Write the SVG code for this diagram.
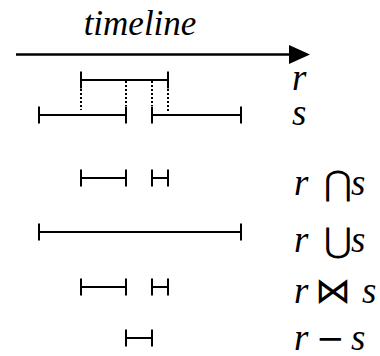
<svg xmlns="http://www.w3.org/2000/svg" width="380" height="356" viewBox="0 0 380 356">
<style>
.iv{stroke:#000;stroke-width:2;fill:none}
.dot{stroke:#000;stroke-width:2;stroke-dasharray:2 2;fill:none}
</style>
<rect width="380" height="356" fill="#fff"/>
<g font-family="Liberation Serif" font-style="italic" font-size="37" fill="#000">
<g id="timeline">
<text x="140" y="35" text-anchor="middle" font-size="35">timeline</text>
<line x1="16" y1="54.5" x2="291" y2="54.5" stroke="#000" stroke-width="2.5"/>
<polygon points="289,45 310,54.5 289,64" fill="#000"/>
</g>
<g id="connectors">
<line class="dot" x1="81" y1="89" x2="81" y2="110"/>
<line class="dot" x1="126" y1="81" x2="126" y2="106"/>
<line class="dot" x1="152" y1="81" x2="152" y2="106"/>
<line class="dot" x1="168" y1="89" x2="168" y2="112"/>
</g>
<g id="r">
<path class="iv" d="M81,80H168M81,71.5V88.5M168,71.5V88.5"/>
<text x="292" y="90">r</text>
</g>
<g id="s">
<path class="iv" d="M39,115H126M39,106.5V123.5M126,106.5V123.5M152,115H241M152,106.5V123.5M241,106.5V123.5"/>
<text x="292" y="125">s</text>
</g>
<g id="intersection">
<path class="iv" d="M81,178H126M81,169.5V186.5M126,169.5V186.5M152,178H168M152,169.5V186.5M168,169.5V186.5"/>
<text y="195"><tspan x="294">r</tspan><tspan x="324" font-family="DejaVu Sans" font-style="normal" font-size="34">⋂</tspan><tspan x="351">s</tspan></text>
</g>
<g id="union">
<path class="iv" d="M39,232H241M39,223.5V240.5M241,223.5V240.5"/>
<text y="252"><tspan x="294">r</tspan><tspan x="324" font-family="DejaVu Sans" font-style="normal" font-size="34">⋃</tspan><tspan x="351">s</tspan></text>
</g>
<g id="join">
<path class="iv" d="M81,287H126M81,278.5V295.5M126,278.5V295.5M152,287H168M152,278.5V295.5M168,278.5V295.5"/>
<text y="303"><tspan x="294">r</tspan><tspan x="315" font-family="DejaVu Serif" font-style="normal" font-size="36">⋈</tspan><tspan x="362">s</tspan></text>
</g>
<g id="difference">
<path class="iv" d="M126,338H152M126,329.5V346.5M152,329.5V346.5"/>
<text y="350"><tspan x="294">r</tspan><tspan x="316" font-family="DejaVu Sans" font-style="normal" font-size="34">−</tspan><tspan x="351">s</tspan></text>
</g>
</g>
</svg>
